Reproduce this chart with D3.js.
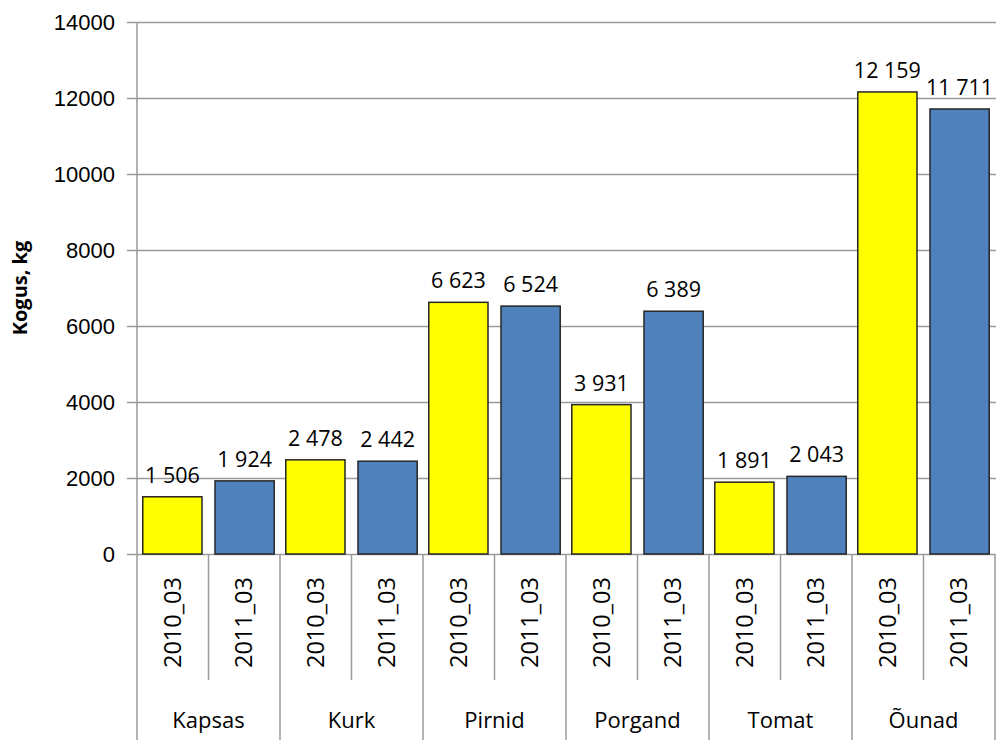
<!DOCTYPE html>
<html>
<head>
<meta charset="utf-8">
<script src="https://cdn.jsdelivr.net/npm/d3@7/dist/d3.min.js"></script>
<style>
  html, body { margin: 0; padding: 0; background: #fff; }
  svg { display: block; font-family: "Open Sans", Lato, sans-serif; }
</style>
</head>
<body>
<svg id="chart" width="996" height="740"></svg>
<script>
// Quantity per product, March 2010 vs March 2011
const categories = ["Kapsas", "Kurk", "Pirnid", "Porgand", "Tomat", "Õunad"];
const periods = ["2010_03", "2011_03"];
const values2010 = [1506, 2478, 6623, 3931, 1891, 12159];
const values2011 = [1924, 2442, 6524, 6389, 2043, 11711];
const yTicks = [0, 2000, 4000, 6000, 8000, 10000, 12000, 14000];
const yTitle = "Kogus, kg";

const colors = { "2010_03": "#FFFF00", "2011_03": "#4F81BD" };

const rows = categories.map((c, i) => ({
  category: c,
  bars: [
    { period: periods[0], value: values2010[i] },
    { period: periods[1], value: values2011[i] }
  ]
}));

const svg = d3.select("#chart");
const W = 996, H = 740;
const plot = { left: 137, right: 995, top: 22, bottom: 554 };
const gridColor = "#9a9a9a";

const x0 = d3.scaleBand().domain(categories).range([plot.left, plot.right]).padding(0);
const x1 = d3.scaleBand().domain(periods).range([0, x0.bandwidth()])
  .paddingInner(0.18).paddingOuter(0.08);
const y = d3.scaleLinear().domain([0, 14000]).range([plot.bottom, plot.top]);

const fmt = d3.formatLocale({ decimal: ",", thousands: "\u00a0", grouping: [3], currency: ["", ""] }).format(",d");

// Horizontal gridlines with left tick stubs
const yAxis = d3.axisLeft(y).tickValues(yTicks).tickSize(-(W - plot.left + 10)).tickFormat(d3.format("d"));
const gy = svg.append("g").attr("transform", `translate(${plot.left - 10},0)`).call(yAxis);
gy.select(".domain").remove();
gy.selectAll(".tick line").attr("stroke", gridColor).attr("stroke-width", 1.5);
gy.selectAll(".tick text").attr("font-size", 22).attr("fill", "#000")
  .attr("x", -12).attr("dy", "0.36em");

// Vertical value axis line
svg.append("line")
  .attr("x1", plot.left).attr("x2", plot.left)
  .attr("y1", plot.top).attr("y2", H)
  .attr("stroke", gridColor).attr("stroke-width", 1.5);

// Bars
const groups = svg.append("g").selectAll("g").data(rows).join("g")
  .attr("transform", d => `translate(${x0(d.category)},0)`);

groups.selectAll("rect").data(d => d.bars).join("rect")
  .attr("x", d => x1(d.period))
  .attr("width", x1.bandwidth())
  .attr("y", d => y(d.value))
  .attr("height", d => y(0) - y(d.value))
  .attr("fill", d => colors[d.period])
  .attr("stroke", "#262626")
  .attr("stroke-width", 1.5);

// Value labels
groups.selectAll("text.val").data(d => d.bars).join("text")
  .attr("class", "val")
  .attr("x", d => x1(d.period) + x1.bandwidth() / 2)
  .attr("y", d => y(d.value) - 14)
  .attr("text-anchor", "middle")
  .attr("font-size", 21.5)
  .attr("fill", "#000")
  .text(d => fmt(d.value));

// Category axis: separators between periods and between products
const slotW = x0.bandwidth() / 2;
categories.forEach((c, i) => {
  const gx = x0(c);
  // separator between the two periods
  svg.append("line")
    .attr("x1", gx + slotW).attr("x2", gx + slotW)
    .attr("y1", plot.bottom).attr("y2", 680)
    .attr("stroke", gridColor).attr("stroke-width", 1.5);
  // separator at the right edge of the product group
  svg.append("line")
    .attr("x1", gx + x0.bandwidth()).attr("x2", gx + x0.bandwidth())
    .attr("y1", plot.bottom).attr("y2", H)
    .attr("stroke", gridColor).attr("stroke-width", 1.5);
  // period labels, rotated
  periods.forEach((p, j) => {
    const cx = gx + slotW * (j + 0.5);
    svg.append("text")
      .attr("transform", `translate(${cx + 8},668) rotate(-90)`)
      .attr("font-size", 23.5)
      .attr("fill", "#000")
      .text(p);
  });
  // product label
  svg.append("text")
    .attr("x", gx + x0.bandwidth() / 2)
    .attr("y", 728)
    .attr("text-anchor", "middle")
    .attr("font-size", 22)
    .attr("fill", "#000")
    .text(c);
});

// Value axis title
svg.append("text")
  .attr("transform", `translate(27,${(plot.top + plot.bottom) / 2}) rotate(-90)`)
  .attr("text-anchor", "middle")
  .attr("font-size", 20)
  .attr("font-weight", "bold")
  .attr("fill", "#000")
  .text(yTitle);
</script>
</body>
</html>
